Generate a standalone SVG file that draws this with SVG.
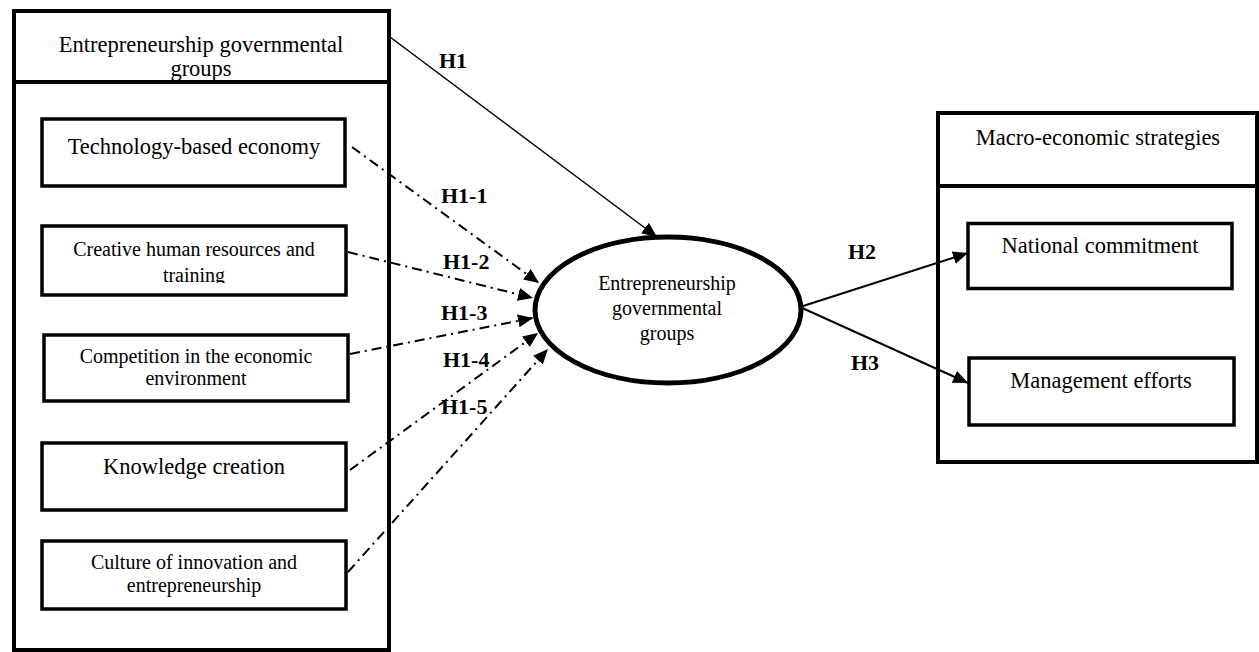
<svg xmlns="http://www.w3.org/2000/svg" width="1259" height="652" viewBox="0 0 1259 652">
  <style>
    .outer { fill: none; stroke: #000; stroke-width: 4; }
    .inner { fill: #fff; stroke: #000; stroke-width: 3.5; }
    .ell { fill: #fff; stroke: #000; stroke-width: 5; }
    text { font-family: "Liberation Serif", "Times New Roman", serif; fill: #000; text-anchor: middle; }
    .big { font-size: 22.5px; }
    .small { font-size: 20px; }
    .lab { font-size: 22px; font-weight: bold; text-anchor: start; }
    .solid { fill: none; stroke: #000; stroke-width: 2; }
    .thin { fill: none; stroke: #000; stroke-width: 1.5; }
    .dd { fill: none; stroke: #000; stroke-width: 2; stroke-dasharray: 10 5 2 5; }
  </style>
  <defs>
    <marker id="arrow" markerUnits="userSpaceOnUse" markerWidth="16" markerHeight="14" refX="15" refY="6.5" orient="auto">
      <path d="M0,0 L15,6.5 L0,13 Z" fill="#000"/>
    </marker>
    <clipPath id="clipCreative">
      <rect x="42" y="226" width="304" height="57"/>
    </clipPath>
  </defs>
  <rect width="1259" height="652" fill="#fff"/>

  <!-- left construct: governmental groups and its dimensions -->
  <g id="left-group">
    <rect class="outer" x="14" y="11" width="375" height="71"/>
    <rect class="outer" x="14" y="82" width="375" height="568"/>
    <text class="big" x="201" y="52">Entrepreneurship governmental</text>
    <text class="big" x="201" y="76">groups</text>
  </g>
  <g id="tech">
    <rect class="inner" x="42" y="119" width="303" height="67"/>
    <text class="big" x="194" y="154">Technology-based economy</text>
  </g>
  <g id="creative">
    <rect class="inner" x="42" y="226" width="304" height="69"/>
    <g clip-path="url(#clipCreative)">
      <text class="small" x="194" y="256">Creative human resources and</text>
      <text class="small" x="194" y="282">training</text>
    </g>
  </g>
  <g id="competition">
    <rect class="inner" x="44" y="335" width="304" height="66"/>
    <text class="small" x="196" y="363">Competition in the economic</text>
    <text class="small" x="196" y="385">environment</text>
  </g>
  <g id="knowledge">
    <rect class="inner" x="42" y="443" width="304" height="67"/>
    <text class="big" x="194" y="474">Knowledge creation</text>
  </g>
  <g id="culture">
    <rect class="inner" x="42" y="541" width="304" height="68"/>
    <text class="small" x="194" y="569">Culture of innovation and</text>
    <text class="small" x="194" y="592">entrepreneurship</text>
  </g>

  <!-- central latent variable -->
  <g id="center">
    <ellipse class="ell" cx="668" cy="310" rx="133" ry="73"/>
    <text class="small" x="667" y="290">Entrepreneurship</text>
    <text class="small" x="667" y="315">governmental</text>
    <text class="small" x="667" y="340">groups</text>
  </g>

  <!-- right construct: macro-economic strategies -->
  <g id="right-group">
    <rect class="outer" x="938" y="113" width="319" height="73"/>
    <rect class="outer" x="938" y="186" width="319" height="276"/>
    <text class="big" x="1098" y="145">Macro-economic strategies</text>
  </g>
  <g id="national">
    <rect class="inner" x="968" y="223.5" width="264" height="65"/>
    <text class="big" x="1100" y="253">National commitment</text>
  </g>
  <g id="management">
    <rect class="inner" x="969" y="358" width="265" height="67"/>
    <text class="big" x="1101" y="388">Management efforts</text>
  </g>

  <!-- hypothesis paths -->
  <g id="connectors">
    <line class="thin" x1="390" y1="37" x2="657" y2="237" marker-end="url(#arrow)"/>
    <line class="dd" x1="352" y1="147" x2="539" y2="283" marker-end="url(#arrow)"/>
    <line class="dd" x1="348" y1="252" x2="533" y2="298" marker-end="url(#arrow)"/>
    <line class="dd" x1="350" y1="354" x2="533" y2="318" marker-end="url(#arrow)"/>
    <line class="dd" x1="350" y1="470" x2="538" y2="333" marker-end="url(#arrow)"/>
    <line class="dd" x1="348" y1="572" x2="548" y2="349" marker-end="url(#arrow)"/>
    <line class="solid" x1="800" y1="307" x2="968" y2="253" marker-end="url(#arrow)"/>
    <line class="solid" x1="800" y1="307" x2="968" y2="383" marker-end="url(#arrow)"/>
  </g>

  <g id="labels">
    <text class="lab" x="439" y="68">H1</text>
    <text class="lab" x="441" y="203">H1-1</text>
    <text class="lab" x="443" y="269">H1-2</text>
    <text class="lab" x="441" y="320">H1-3</text>
    <text class="lab" x="443" y="367">H1-4</text>
    <text class="lab" x="441" y="414">H1-5</text>
    <text class="lab" x="848" y="259">H2</text>
    <text class="lab" x="851" y="370">H3</text>
  </g>
</svg>
